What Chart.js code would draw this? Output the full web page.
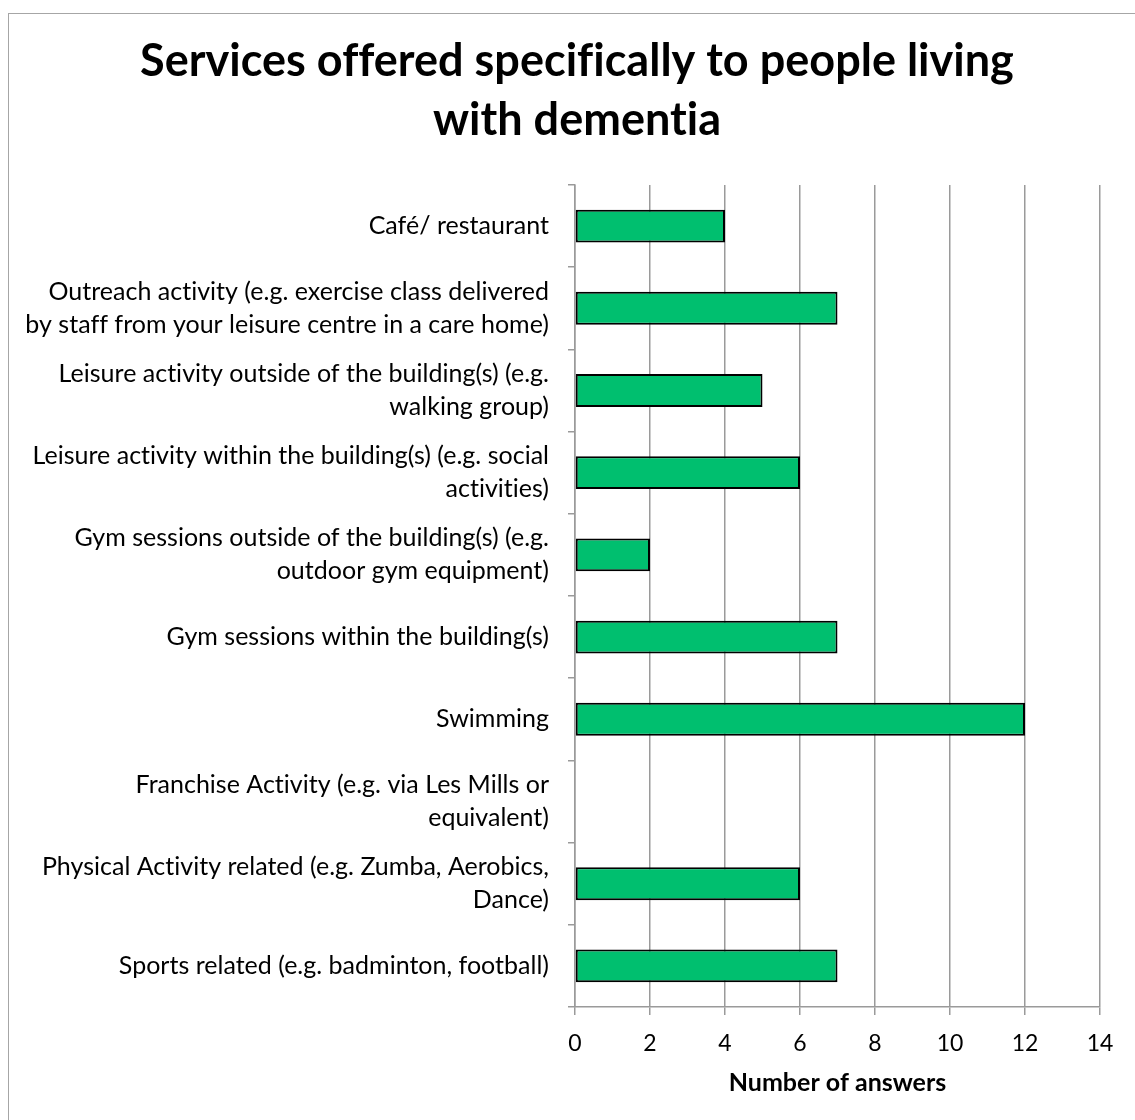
<!DOCTYPE html>
<html>
<head>
<meta charset="utf-8">
<script src="https://cdn.jsdelivr.net/npm/chart.js@4"></script>
<style>
  html, body { margin: 0; padding: 0; background: #fff; }
  #wrap { position: relative; width: 1135px; height: 1120px; }
  #frame { position: absolute; left: 8px; top: 13px; right: -2px; bottom: -2px;
           border-left: 1px solid #a6a6a6; border-top: 1px solid #a6a6a6; pointer-events: none; }
  canvas { position: absolute; left: 0; top: 0; }
</style>
</head>
<body>
<div id="wrap">
  <canvas id="chart" width="1135" height="1120"></canvas>
  <div id="frame"></div>
</div>
<script>
// Service categories (top to bottom) and how many respondents offer each
const categories = [
  ["Café/ restaurant"],
  ["Outreach activity (e.g. exercise class delivered", "by staff from your leisure centre in a care home)"],
  ["Leisure activity outside of the building(s) (e.g.", "walking group)"],
  ["Leisure activity within the building(s) (e.g. social", "activities)"],
  ["Gym sessions outside of the building(s) (e.g.", "outdoor gym equipment)"],
  ["Gym sessions within the building(s)"],
  ["Swimming"],
  ["Franchise Activity (e.g. via Les Mills or", "equivalent)"],
  ["Physical Activity related (e.g. Zumba, Aerobics,", "Dance)"],
  ["Sports related (e.g. badminton, football)"]
];
const answers = [4, 7, 5, 6, 2, 7, 12, 0, 6, 7];
const titleLines = ["Services offered specifically to people living", "with dementia"];
const axisTitle = "Number of answers";
const axisMin = 0, axisMax = 14, axisStep = 2;

const FONT = "Lato, Carlito, 'Open Sans', sans-serif";
const GRID = "#9a9a9a";

// A tiny letter spacing keeps the canvas from joining letters into ligatures
const plainLetters = {
  id: "plainLetters",
  beforeUpdate(chart) { chart.ctx.letterSpacing = "0.01px"; },
  beforeLayout(chart) { chart.ctx.letterSpacing = "0.01px"; },
  beforeDraw(chart) { chart.ctx.letterSpacing = "0.01px"; }
};

// Long category labels run further left than the axis box; widen its label clip
const wideLabels = {
  id: "wideLabels",
  afterLayout(chart) { chart.scales.y.left = 0; }
};

new Chart(document.getElementById("chart"), {
  type: "bar",
  data: {
    labels: categories,
    datasets: [{
      data: answers,
      backgroundColor: "#00bf6f",
      borderColor: "#000000",
      borderWidth: 2,
      borderSkipped: false,
      barPercentage: 0.4,
      categoryPercentage: 1.0
    }]
  },
  plugins: [plainLetters, wideLabels],
  options: {
    indexAxis: "y",
    responsive: false,
    animation: false,
    devicePixelRatio: 1,
    layout: { padding: { left: 54, right: 35, top: 0, bottom: 0 } },
    plugins: {
      legend: { display: false },
      tooltip: { enabled: false },
      title: {
        display: true,
        text: titleLines,
        color: "#000",
        font: { family: FONT, size: 45, weight: "bold", lineHeight: 1.333 },
        padding: { top: 31, bottom: 34 }
      }
    },
    scales: {
      x: {
        min: axisMin,
        max: axisMax,
        ticks: { stepSize: axisStep, color: "#000", padding: 15,
                 font: { family: FONT, size: 23 } },
        grid: { color: GRID, lineWidth: 1.5, tickLength: 8, drawTicks: true },
        border: { color: GRID, width: 1.5 },
        title: { display: true, text: axisTitle, color: "#000",
                 font: { family: FONT, size: 25, weight: "bold", lineHeight: 1.2 },
                 padding: { top: 10, bottom: 22 } },
        afterFit(scale) { scale.height = 1120 - 1007; }
      },
      y: {
        offset: true,
        ticks: { color: "#000", padding: 19, autoSkip: false,
                 font: { family: FONT, size: 25, lineHeight: 1.32 } },
        grid: { offset: true, drawOnChartArea: false, color: GRID, lineWidth: 1.5, tickLength: 7 },
        border: { color: GRID, width: 1.5 },
        afterFit(scale) { scale.width = 575 - 54; }
      }
    }
  }
});
</script>
</body>
</html>
